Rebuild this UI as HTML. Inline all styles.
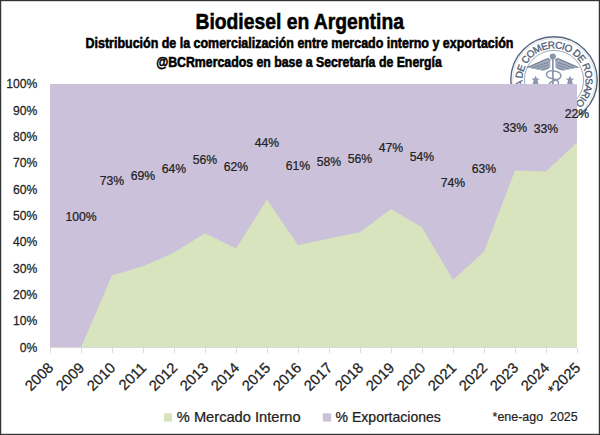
<!DOCTYPE html>
<html><head><meta charset="utf-8"><title>Biodiesel en Argentina</title>
<style>html,body{margin:0;padding:0;background:#fff;}body{width:600px;height:435px;position:relative;overflow:hidden;font-family:"Liberation Sans",sans-serif;}</style>
</head><body>
<svg width="600" height="435" viewBox="0 0 600 435" style="position:absolute;left:0;top:0;font-family:'Liberation Sans',sans-serif">
<rect x="0" y="0" width="600" height="435" fill="#fff"/>
<g id="seal" fill="none" stroke="#56657f">
<circle cx="554.0" cy="80.0" r="43.2" stroke-width="1.4"/>
<circle cx="554.0" cy="80.0" r="41.4" stroke-width="0.4" opacity="0.5"/>
<circle cx="554.0" cy="80.0" r="29.6" stroke-width="0.7" opacity="0.8"/>
</g>
<path id="sealarc" d="M536.33,106.20 A31.6,31.6 0 1 1 575.14,103.48" fill="none"/>
<text font-size="10" fill="#4d5b76" stroke="#4d5b76" stroke-width="0.3" textLength="156.6" lengthAdjust="spacing"><textPath href="#sealarc" textLength="156.6" lengthAdjust="spacing">BOLSA DE COMERCIO DE ROSARIO</textPath></text>
<g id="cad" stroke="#56657f" fill="#56657f" stroke-linecap="round" stroke-linejoin="round">
<circle cx="552.8" cy="56.6" r="3.1" stroke="none" fill="#8a96ab"/>
<rect x="552" y="59" width="1.7" height="27" stroke="none" fill="#8a96ab"/>
<path d="M550.3,59.5 C549.8,58.3 547.8,58 546.3,59 L527.3,67.4 C531.8,68.2 535.8,69 539.8,70 C543.8,71 547.8,70 550.3,67 Z" stroke="none" fill="#8a96ab" opacity="0.8"/>
<path d="M549.8,60.5 C549.3,58.3 547.3,58.2 545.8,59.3 L527.3,67.4" fill="none" stroke-width="0.9"/>
<path d="M547.8,62.5 L531.8,68" fill="none" stroke-width="0.55"/>
<path d="M548.3,65 L536.8,69" fill="none" stroke-width="0.55"/>
<path d="M548.8,67.5 L541.8,70.2" fill="none" stroke-width="0.55"/>
<path d="M535.5999999999999,75.8 l1.3,2.6 2.8,0.3 -2.2,1.8 1.6,5.5 -7,0 1.6,-5.5 -2.2,-1.8 2.8,-0.3z" stroke="none" fill="#8a96ab"/>
<path d="M555.3,59.5 C555.8,58.3 557.8,58 559.3,59 L578.3,67.4 C573.8,68.2 569.8,69 565.8,70 C561.8,71 557.8,70 555.3,67 Z" stroke="none" fill="#8a96ab" opacity="0.8"/>
<path d="M555.8,60.5 C556.3,58.3 558.3,58.2 559.8,59.3 L578.3,67.4" fill="none" stroke-width="0.9"/>
<path d="M557.8,62.5 L573.8,68" fill="none" stroke-width="0.55"/>
<path d="M557.3,65 L568.8,69" fill="none" stroke-width="0.55"/>
<path d="M556.8,67.5 L563.8,70.2" fill="none" stroke-width="0.55"/>
<path d="M570.0,75.8 l1.3,2.6 2.8,0.3 -2.2,1.8 1.6,5.5 -7,0 1.6,-5.5 -2.2,-1.8 2.8,-0.3z" stroke="none" fill="#8a96ab"/>
<path d="M553,70.5 C545,71 544,77 552,78.5 C560,80 561,85 553,87" fill="none" stroke="#8a96ab" stroke-width="1.5"/>
<path d="M553,71 C562,71.5 564,78 556,80 C549,82 547,85 551,88" fill="none" stroke="#8a96ab" stroke-width="1.5"/>
</g>
<rect x="50.0" y="84.0" width="527.0" height="263.5" fill="#ccc1da"/>
<polygon points="50.0,347.5 50.00,347.50 81.00,347.50 112.00,275.60 143.00,266.20 174.00,252.60 205.00,233.20 236.00,248.40 267.00,199.60 298.00,245.20 329.00,238.60 360.00,232.20 391.00,209.00 422.00,227.40 453.00,280.00 484.00,251.60 515.00,170.60 546.00,171.60 577.00,142.60 577.0,347.5" fill="#d7e4bd"/>
<path d="M50.0,347.5 H577.0" stroke="#d9d9d9" stroke-width="1" fill="none"/>
<path d="M50.50,347.5 v5.5M81.50,347.5 v5.5M112.50,347.5 v5.5M143.50,347.5 v5.5M174.50,347.5 v5.5M205.50,347.5 v5.5M236.50,347.5 v5.5M267.50,347.5 v5.5M298.50,347.5 v5.5M329.50,347.5 v5.5M360.50,347.5 v5.5M391.50,347.5 v5.5M422.50,347.5 v5.5M453.50,347.5 v5.5M484.50,347.5 v5.5M515.50,347.5 v5.5M546.50,347.5 v5.5M577.50,347.5 v5.5" stroke="#dcdcdc" stroke-width="1" fill="none"/>
<text x="37.4" y="351.80" font-size="13" text-anchor="end" fill="#222" stroke="#222" stroke-width="0.25" transform="translate(37.4 0) scale(0.935 1) translate(-37.4 0)">0%</text>
<text x="37.4" y="325.45" font-size="13" text-anchor="end" fill="#222" stroke="#222" stroke-width="0.25" transform="translate(37.4 0) scale(0.935 1) translate(-37.4 0)">10%</text>
<text x="37.4" y="299.10" font-size="13" text-anchor="end" fill="#222" stroke="#222" stroke-width="0.25" transform="translate(37.4 0) scale(0.935 1) translate(-37.4 0)">20%</text>
<text x="37.4" y="272.75" font-size="13" text-anchor="end" fill="#222" stroke="#222" stroke-width="0.25" transform="translate(37.4 0) scale(0.935 1) translate(-37.4 0)">30%</text>
<text x="37.4" y="246.40" font-size="13" text-anchor="end" fill="#222" stroke="#222" stroke-width="0.25" transform="translate(37.4 0) scale(0.935 1) translate(-37.4 0)">40%</text>
<text x="37.4" y="220.05" font-size="13" text-anchor="end" fill="#222" stroke="#222" stroke-width="0.25" transform="translate(37.4 0) scale(0.935 1) translate(-37.4 0)">50%</text>
<text x="37.4" y="193.70" font-size="13" text-anchor="end" fill="#222" stroke="#222" stroke-width="0.25" transform="translate(37.4 0) scale(0.935 1) translate(-37.4 0)">60%</text>
<text x="37.4" y="167.35" font-size="13" text-anchor="end" fill="#222" stroke="#222" stroke-width="0.25" transform="translate(37.4 0) scale(0.935 1) translate(-37.4 0)">70%</text>
<text x="37.4" y="141.00" font-size="13" text-anchor="end" fill="#222" stroke="#222" stroke-width="0.25" transform="translate(37.4 0) scale(0.935 1) translate(-37.4 0)">80%</text>
<text x="37.4" y="114.65" font-size="13" text-anchor="end" fill="#222" stroke="#222" stroke-width="0.25" transform="translate(37.4 0) scale(0.935 1) translate(-37.4 0)">90%</text>
<text x="37.4" y="88.30" font-size="13" text-anchor="end" fill="#222" stroke="#222" stroke-width="0.25" transform="translate(37.4 0) scale(0.935 1) translate(-37.4 0)">100%</text>
<text font-size="14.7" text-anchor="end" fill="#222" stroke="#222" stroke-width="0.25" transform="translate(54.20 368.6) rotate(-45)">2008</text>
<text font-size="14.7" text-anchor="end" fill="#222" stroke="#222" stroke-width="0.25" transform="translate(85.20 368.6) rotate(-45)">2009</text>
<text font-size="14.7" text-anchor="end" fill="#222" stroke="#222" stroke-width="0.25" transform="translate(116.20 368.6) rotate(-45)">2010</text>
<text font-size="14.7" text-anchor="end" fill="#222" stroke="#222" stroke-width="0.25" transform="translate(147.20 368.6) rotate(-45)">2011</text>
<text font-size="14.7" text-anchor="end" fill="#222" stroke="#222" stroke-width="0.25" transform="translate(178.20 368.6) rotate(-45)">2012</text>
<text font-size="14.7" text-anchor="end" fill="#222" stroke="#222" stroke-width="0.25" transform="translate(209.20 368.6) rotate(-45)">2013</text>
<text font-size="14.7" text-anchor="end" fill="#222" stroke="#222" stroke-width="0.25" transform="translate(240.20 368.6) rotate(-45)">2014</text>
<text font-size="14.7" text-anchor="end" fill="#222" stroke="#222" stroke-width="0.25" transform="translate(271.20 368.6) rotate(-45)">2015</text>
<text font-size="14.7" text-anchor="end" fill="#222" stroke="#222" stroke-width="0.25" transform="translate(302.20 368.6) rotate(-45)">2016</text>
<text font-size="14.7" text-anchor="end" fill="#222" stroke="#222" stroke-width="0.25" transform="translate(333.20 368.6) rotate(-45)">2017</text>
<text font-size="14.7" text-anchor="end" fill="#222" stroke="#222" stroke-width="0.25" transform="translate(364.20 368.6) rotate(-45)">2018</text>
<text font-size="14.7" text-anchor="end" fill="#222" stroke="#222" stroke-width="0.25" transform="translate(395.20 368.6) rotate(-45)">2019</text>
<text font-size="14.7" text-anchor="end" fill="#222" stroke="#222" stroke-width="0.25" transform="translate(426.20 368.6) rotate(-45)">2020</text>
<text font-size="14.7" text-anchor="end" fill="#222" stroke="#222" stroke-width="0.25" transform="translate(457.20 368.6) rotate(-45)">2021</text>
<text font-size="14.7" text-anchor="end" fill="#222" stroke="#222" stroke-width="0.25" transform="translate(488.20 368.6) rotate(-45)">2022</text>
<text font-size="14.7" text-anchor="end" fill="#222" stroke="#222" stroke-width="0.25" transform="translate(519.20 368.6) rotate(-45)">2023</text>
<text font-size="14.7" text-anchor="end" fill="#222" stroke="#222" stroke-width="0.25" transform="translate(550.20 368.6) rotate(-45)">2024</text>
<text font-size="14.7" text-anchor="end" fill="#222" stroke="#222" stroke-width="0.25" transform="translate(581.20 368.6) rotate(-45)">*2025</text>
<text font-size="13" text-anchor="middle" fill="#222" stroke="#222" stroke-width="0.25" transform="translate(81.00 220.85) scale(0.94 1)">100%</text>
<text font-size="13" text-anchor="middle" fill="#222" stroke="#222" stroke-width="0.25" transform="translate(112.00 184.90) scale(0.94 1)">73%</text>
<text font-size="13" text-anchor="middle" fill="#222" stroke="#222" stroke-width="0.25" transform="translate(143.00 180.20) scale(0.94 1)">69%</text>
<text font-size="13" text-anchor="middle" fill="#222" stroke="#222" stroke-width="0.25" transform="translate(174.00 173.40) scale(0.94 1)">64%</text>
<text font-size="13" text-anchor="middle" fill="#222" stroke="#222" stroke-width="0.25" transform="translate(205.00 163.70) scale(0.94 1)">56%</text>
<text font-size="13" text-anchor="middle" fill="#222" stroke="#222" stroke-width="0.25" transform="translate(236.00 171.30) scale(0.94 1)">62%</text>
<text font-size="13" text-anchor="middle" fill="#222" stroke="#222" stroke-width="0.25" transform="translate(267.00 146.90) scale(0.94 1)">44%</text>
<text font-size="13" text-anchor="middle" fill="#222" stroke="#222" stroke-width="0.25" transform="translate(298.00 169.70) scale(0.94 1)">61%</text>
<text font-size="13" text-anchor="middle" fill="#222" stroke="#222" stroke-width="0.25" transform="translate(329.00 166.40) scale(0.94 1)">58%</text>
<text font-size="13" text-anchor="middle" fill="#222" stroke="#222" stroke-width="0.25" transform="translate(360.00 163.20) scale(0.94 1)">56%</text>
<text font-size="13" text-anchor="middle" fill="#222" stroke="#222" stroke-width="0.25" transform="translate(391.00 151.60) scale(0.94 1)">47%</text>
<text font-size="13" text-anchor="middle" fill="#222" stroke="#222" stroke-width="0.25" transform="translate(422.00 160.80) scale(0.94 1)">54%</text>
<text font-size="13" text-anchor="middle" fill="#222" stroke="#222" stroke-width="0.25" transform="translate(453.00 187.10) scale(0.94 1)">74%</text>
<text font-size="13" text-anchor="middle" fill="#222" stroke="#222" stroke-width="0.25" transform="translate(484.00 172.90) scale(0.94 1)">63%</text>
<text font-size="13" text-anchor="middle" fill="#222" stroke="#222" stroke-width="0.25" transform="translate(515.00 132.40) scale(0.94 1)">33%</text>
<text font-size="13" text-anchor="middle" fill="#222" stroke="#222" stroke-width="0.25" transform="translate(546.00 132.90) scale(0.94 1)">33%</text>
<text font-size="13" text-anchor="middle" fill="#222" stroke="#222" stroke-width="0.25" transform="translate(577.00 118.40) scale(0.94 1)">22%</text>
<text id="t1" font-size="22.2" font-weight="bold" text-anchor="middle" fill="#000" stroke="#000" stroke-width="0.55" transform="translate(299.7 28.8) scale(0.87 1)">Biodiesel en Argentina</text>
<text id="t2" font-size="14" font-weight="bold" text-anchor="middle" fill="#000" stroke="#000" stroke-width="0.55" transform="translate(299.5 48.4) scale(0.89 1)">Distribución de la comercialización entre mercado interno y exportación</text>
<text id="t3" font-size="14" font-weight="bold" text-anchor="middle" fill="#000" stroke="#000" stroke-width="0.55" transform="translate(299 66.8) scale(0.88 1)">@BCRmercados en base a Secretaría de Energía</text>
<rect x="164" y="413.3" width="8" height="8.3" fill="#d7e4bd"/>
<text id="l1" font-size="14.2" fill="#222" stroke="#222" stroke-width="0.25" transform="translate(176.8 421.7) scale(1.033 1)">% Mercado Interno</text>
<rect x="322.8" y="413.3" width="8.4" height="8.3" fill="#ccc1da"/>
<text id="l2" font-size="14.2" fill="#222" stroke="#222" stroke-width="0.25" transform="translate(335.6 421.7) scale(0.988 1)">% Exportaciones</text>
<text id="l3" font-size="13" fill="#222" stroke="#222" stroke-width="0.2" xml:space="preserve" transform="translate(492.6 421.3) scale(0.957 1)">*ene-ago  2025</text>
<rect x="0.6" y="0.6" width="598.8" height="433.8" fill="none" stroke="#333" stroke-width="1.2"/>
</svg>
</body></html>
